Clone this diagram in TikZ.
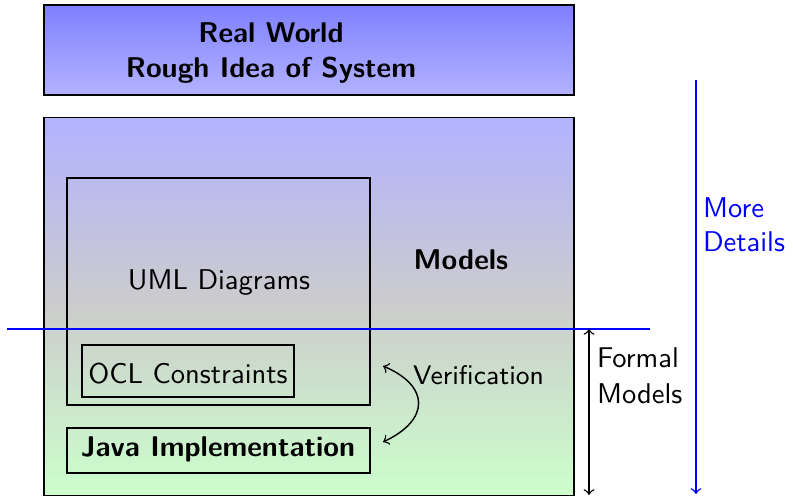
\documentclass[tikz,border=0pt]{standalone}
\usepackage{fontspec}
\begin{document}
\begin{tikzpicture}[x=0.35pt,y=-0.35pt,
  font=\sffamily,
  frame/.style={draw=black,line width=0.5pt,inner sep=0pt,outer sep=0pt},
  lbl/.style={inner sep=0pt,outer sep=0pt},
  arr/.style={line width=0.5pt}]
\useasboundingbox (0,0) rectangle (793,497);

% top level: the real world
\node[frame,minimum width=185.5pt,minimum height=31.5pt,
      top color=blue!50,bottom color=blue!30] (real) at (309,50) {};
\node[lbl,font=\sffamily\bfseries] (realA) at (271,33) {Real World};
\node[lbl,font=\sffamily\bfseries] (realB) at (271,70) {Rough Idea of System};

% models layer
\node[frame,minimum width=185.5pt,minimum height=132.3pt,
      top color=blue!30,bottom color=green!20,middle color=gray!40] (models) at (309,306.5) {};
\node[lbl,font=\sffamily\bfseries] (modelsT) at (461,260) {Models};

\node[frame,minimum width=106.05pt,minimum height=79.45pt] (uml) at (218.5,291.5) {};
\node[lbl] (umlT) at (219,283) {UML Diagrams};

\node[frame,minimum width=74.2pt,minimum height=18.2pt] (ocl) at (188,371) {};
\node[lbl] (oclT) at (188,374) {OCL Constraints};

\node[frame,minimum width=106.05pt,minimum height=15.75pt] (java) at (218.5,450.5) {};
\node[lbl,font=\sffamily\bfseries] (javaT) at (218,449) {Java Implementation};

% verification loop
\coordinate (v1) at (383,366);
\coordinate (v2) at (383,442);
\draw[arr,<->] (v1) .. controls (430,386) and (430,420) .. (v2);
\node[lbl,anchor=west,font=\sffamily\fontsize{9.4pt}{11pt}\selectfont] (verT) at (413,375) {Verification};

% formal boundary
\coordinate (bl) at (7,329);
\coordinate (br) at (650,329);
\draw[blue,line width=0.5pt] (bl) -- (br);

\coordinate (f1) at (589,329);
\coordinate (f2) at (589,495);
\draw[arr,<->] (f1) -- (f2);
\node[lbl,anchor=west] (fA) at (597,358) {Formal};
\node[lbl,anchor=west] (fB) at (597,394) {Models};

% detail axis
\coordinate (d1) at (696,80);
\coordinate (d2) at (696,494);
\draw[arr,blue,->] (d1) -- (d2);
\node[lbl,anchor=west,text=blue] (dA) at (703,208) {More};
\node[lbl,anchor=west,text=blue] (dB) at (703,242) {Details};
\end{tikzpicture}
\end{document}
